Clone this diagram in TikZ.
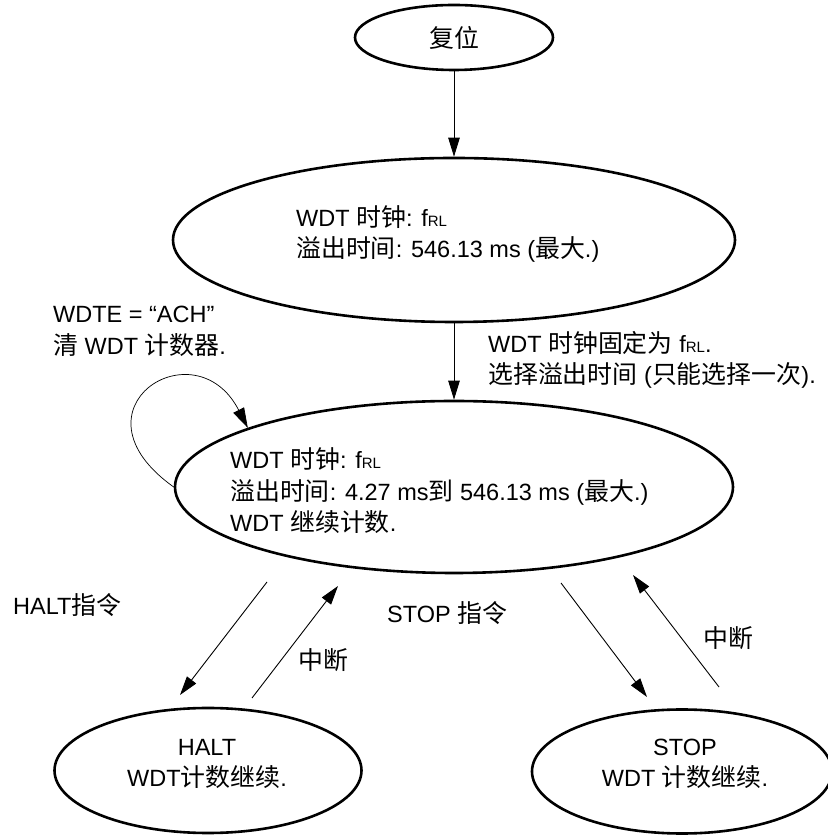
\documentclass[tikz,border=0pt]{standalone}
\usepackage{fontspec}
\setmainfont{Liberation Sans}
\newfontfamily\zhfont[Scale=1.06]{Noto Sans CJK SC}
\usetikzlibrary{shapes.geometric,arrows.meta}
\newcommand\zh[1]{{\zhfont #1}}
\newcommand\fRL{f{\fontsize{15bp}{15bp}\selectfont RL}}
\begin{document}
\begin{tikzpicture}[x=1bp,y=1bp,
  every node/.style={font=\fontsize{23.5bp}{31.5bp}\selectfont},
  state/.style={draw, ellipse, line width=2.6bp, inner sep=0pt},
  txt/.style={inner sep=0pt, align=left, anchor=west},
  ctxt/.style={inner sep=0pt, align=center},
  conn/.style={line width=0.9bp, -{Triangle[length=19bp,width=11.5bp]}},
  loopconn/.style={line width=0.7bp, -{Triangle[length=20bp,width=12bp]}},
]
\useasboundingbox (0,0) rectangle (828,835);
% states
\node[state, minimum width=198bp, minimum height=65bp] (A) at (454,797.5) {\zh{复位}};
\node[state, minimum width=562bp, minimum height=164bp] (B) at (454,595) {};
\node[state, minimum width=558bp, minimum height=172bp] (C) at (454,348) {};
\node[state, minimum width=307bp, minimum height=125bp] (H) at (208,64.5) {};
\node[state, minimum width=300bp, minimum height=124bp] (S) at (682,63.5) {};
% texts in states
\node[txt] (Bt) at (296,601) {WDT \zh{时钟}: \fRL\\\zh{溢出时间}: 546.13 ms (\zh{最大}.)};
\node[txt] (Ct) at (230,344) {WDT \zh{时钟}: \fRL\\\zh{溢出时间}: 4.27 ms\zh{到} 546.13 ms (\zh{最大}.)\\WDT \zh{继续计数}.};
\node[ctxt] (Ht) at (207,71) {HALT\\WDT\zh{计数继续}.};
\node[ctxt] (St) at (685,71) {STOP\\WDT \zh{计数继续}.};
% labels
\node[txt] (l1) at (53,503.5) {WDTE = “ACH”\\\zh{清} WDT \zh{计数器}.};
\node[txt] (l2) at (488,475) {WDT \zh{时钟固定为} \fRL.\\\zh{选择溢出时间} (\zh{只能选择一次}).};
\node[txt] (l3) at (13,230) {HALT\zh{指令}};
\node[txt] (l4) at (387,222) {STOP \zh{指令}};
\node[ctxt] (l5) at (323,175) {\zh{中断}};
\node[ctxt] (l6) at (728,197) {\zh{中断}};
% floating arrow ends
\coordinate (h1) at (267,253);
\coordinate (h2) at (180,140);
\coordinate (h3) at (252,137);
\coordinate (h4) at (338,249);
\coordinate (s1) at (561,252);
\coordinate (s2) at (647,138);
\coordinate (s3) at (719,148);
\coordinate (s4) at (633,260);
% connectors
\draw[conn] (A.south) -- (B.north);
\draw[conn] (B.south) -- (C.north);
\draw[loopconn] (C.180) .. controls (64,426) and (195,510) .. (C.164.4);
\draw[conn] (h1) -- (h2);
\draw[conn] (h3) -- (h4);
\draw[conn] (s1) -- (s2);
\draw[conn] (s3) -- (s4);
\end{tikzpicture}
\end{document}
